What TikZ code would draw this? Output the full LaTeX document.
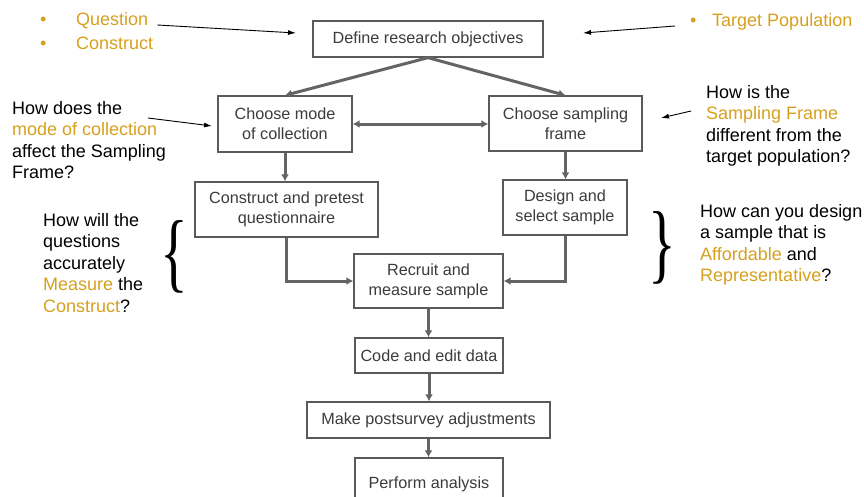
\documentclass[tikz,border=0pt]{standalone}
\usepackage{fontspec}
\setmainfont{Liberation Sans}
\newfontfamily\bracefont{Liberation Serif}
\usetikzlibrary{arrows.meta}
\definecolor{gold}{RGB}{214,160,30}
\definecolor{boxline}{RGB}{90,90,90}
\definecolor{boxtext}{RGB}{60,60,60}
\definecolor{flow}{RGB}{100,100,100}
\begin{document}
\begin{tikzpicture}[x=1pt,y=-1pt,
  stage/.style={draw=boxline, line width=1.3pt, fill=white, text=boxtext,
    font=\fontsize{16.2}{20}\selectfont, align=center, inner sep=0pt},
  flowarrow/.style={draw=flow, line width=3pt, -{Latex[length=7pt,width=8pt]}},
  flowboth/.style={draw=flow, line width=3pt, {Latex[length=7pt,width=8pt]}-{Latex[length=7pt,width=8pt]}},
  note/.style={font=\fontsize{18}{21.5}\selectfont, align=left, inner sep=0pt, anchor=north west, text=black},
  item/.style={font=\fontsize{18}{21.5}\selectfont, inner sep=0pt, anchor=west, text=gold},
  pointer/.style={draw=black, line width=0.9pt, -{Latex[length=8pt,width=5pt]}},
  brace/.style={inner sep=0pt, text=black, font=\bracefont\fontsize{72}{72}\selectfont}
]
\useasboundingbox (0,0) rectangle (864,496);
\clip (0,0) rectangle (864,496);

% stages
\node[stage, minimum width=230pt, minimum height=36pt] (obj) at (428,39) {Define research objectives};
\node[stage, minimum width=134pt, minimum height=56pt] (mode) at (285,124) {Choose mode\\of collection};
\node[stage, minimum width=153pt, minimum height=55pt] (frame) at (565.5,123.5) {Choose sampling\\frame};
\node[stage, minimum width=183pt, minimum height=55pt] (cons) at (286.5,209.5) {Construct and pretest\\questionnaire};
\node[stage, minimum width=124pt, minimum height=55pt] (des) at (565,207.5) {Design and\\select sample};
\node[stage, minimum width=149pt, minimum height=54pt] (rec) at (428.5,281) {Recruit and\\measure sample};
\node[stage, minimum width=148pt, minimum height=35pt] (code) at (429,355.5) {Code and edit data};
\node[stage, minimum width=243pt, minimum height=36pt] (adj) at (428.5,420) {Make postsurvey adjustments};
\node[stage, minimum width=148pt, minimum height=52pt] (ana) at (429,484) {Perform analysis};

% flow connectors
\draw[flowarrow] (obj.south) -- (mode.north);
\draw[flowarrow] (obj.south) -- (frame.north);
\draw[flowboth] (mode.east) -- (mode.east -| frame.west);
\draw[flowarrow] (mode.south) -- (mode.south |- cons.north);
\draw[flowarrow] (frame.south) -- (frame.south |- des.north);
\draw[flowarrow] (cons.south) |- (rec.west);
\draw[flowarrow] (des.south) |- (rec.east);
\draw[flowarrow] (rec.south) -- (rec.south |- code.north);
\draw[flowarrow] (code.south) -- (code.south |- adj.north);
\draw[flowarrow] (adj.south) -- (adj.south |- ana.north);

% bullet items
\node[item] (qitem) at (40,20.5) {\makebox[36pt][l]{•}Question};
\node[item] (citem) at (40,43.5) {\makebox[36pt][l]{•}Construct};
\node[item] (tp) at (690,21.5) {\makebox[22pt][l]{•}Target Population};

% questions
\node[note] (modeq) at (12,101) {How does the\\\textcolor{gold}{mode of collection}\\affect the Sampling\\Frame?};
\node[note] (measq) at (43,213) {How will the\\questions\\accurately\\\textcolor{gold}{Measure} the\\\textcolor{gold}{Construct}?};
\node[note] (frameq) at (706,85) {How is the\\\textcolor{gold}{Sampling Frame}\\different from the\\target population?};
\node[note] (sampq) at (700,204) {How can you design\\a sample that is\\\textcolor{gold}{Affordable} and\\\textcolor{gold}{Representative}?};

% braces
\node[brace] (lbr) at (174,257) {\scalebox{0.8}[1.22]{\{}};
\node[brace] (rbr) at (662,248) {\scalebox{0.8}[1.22]{\}}};

% pointers
\coordinate (pq) at (296,33);
\coordinate (pt) at (583,33);
\coordinate (pf) at (661,118);
\coordinate (pm) at (212,126);
\draw[pointer] ([shift={(9,4.5)}]qitem.east) -- (pq);
\draw[pointer] ([shift={(-15,4.5)}]tp.west) -- (pt);
\draw[pointer] ([shift={(-15,26)}]frameq.north west) -- (pf);
\draw[pointer] ([shift={(136,17)}]modeq.north west) -- (pm);
\end{tikzpicture}
\end{document}
